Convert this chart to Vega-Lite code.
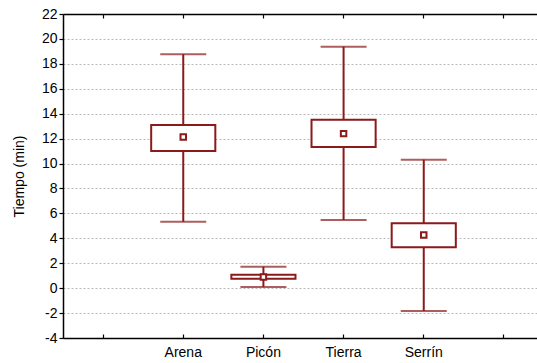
{
  "$schema": "https://vega.github.io/schema/vega-lite/v6.json",
  "width": 481,
  "height": 324,
  "autosize": {"type": "none"},
  "padding": {"left": 63, "top": 14, "right": 0, "bottom": 25},
  "background": "white",
  "config": {
    "view": {"stroke": null},
    "font": "Liberation Sans",
    "axis": {
      "labelFont": "Liberation Sans",
      "titleFont": "Liberation Sans",
      "labelColor": "#000",
      "titleColor": "#000",
      "labelFontSize": 14,
      "titleFontSize": 14,
      "titleFontWeight": "normal",
      "domainColor": "#000",
      "domainWidth": 1.5,
      "tickColor": "#000",
      "tickWidth": 1.2,
      "labelOverlap": false
    },
    "axisY": {
      "title": "Tiempo (min)",
      "grid": true,
      "gridColor": "#b8b8b8",
      "gridDash": [2, 2],
      "gridWidth": 1,
      "tickSize": 4,
      "labelPadding": 2,
      "titlePadding": 15
    }
  },
  "data": {
    "values": [
      {"cat": "Arena", "mean": 12.13, "boxLo": 11.0, "boxHi": 13.09, "wLo": 5.33, "wHi": 18.77},
      {"cat": "Picón", "mean": 0.9, "boxLo": 0.76, "boxHi": 1.08, "wLo": 0.09, "wHi": 1.72},
      {"cat": "Tierra", "mean": 12.4, "boxLo": 11.33, "boxHi": 13.52, "wLo": 5.47, "wHi": 19.38},
      {"cat": "Serrín", "mean": 4.27, "boxLo": 3.28, "boxHi": 5.2, "wLo": -1.83, "wHi": 10.31}
    ]
  },
  "resolve": {"axis": {"x": "independent"}},
  "layer": [
    {
      "encoding": {
        "x": {
          "field": "cat",
          "type": "nominal",
          "sort": null,
          "scale": {"type": "band", "domain": ["e0", "Arena", "Picón", "Tierra", "Serrín", "e5"], "paddingInner": 0, "paddingOuter": 0},
          "axis": {
            "orient": "bottom",
            "title": null,
            "labelAngle": 0,
            "labelExpr": "indexof(['e0','e5'], datum.value) >= 0 ? '' : datum.value",
            "tickSize": -4,
            "labelPadding": 11,
            "grid": false
          }
        }
      },
      "layer": [
        {
          "mark": {"type": "rule", "color": "#8B1A1A", "strokeWidth": 2},
          "encoding": {
            "y": {
              "field": "wLo",
              "type": "quantitative",
              "scale": {"domain": [-4, 22], "nice": false, "zero": false},
              "axis": {"title": "Tiempo (min)", "values": [-4, -2, 0, 2, 4, 6, 8, 10, 12, 14, 16, 18, 20, 22], "labelExpr": "'' + datum.value"}
            },
            "y2": {"field": "wHi"}
          }
        },
        {
          "mark": {"type": "tick", "color": "#8B1A1A", "thickness": 2, "size": 46, "orient": "horizontal"},
          "encoding": {"y": {"field": "wLo", "type": "quantitative", "axis": {"title": "Tiempo (min)", "values": [-4, -2, 0, 2, 4, 6, 8, 10, 12, 14, 16, 18, 20, 22], "labelExpr": "'' + datum.value"}}}
        },
        {
          "mark": {"type": "tick", "color": "#8B1A1A", "thickness": 2, "size": 46, "orient": "horizontal"},
          "encoding": {"y": {"field": "wHi", "type": "quantitative", "axis": {"title": "Tiempo (min)", "values": [-4, -2, 0, 2, 4, 6, 8, 10, 12, 14, 16, 18, 20, 22], "labelExpr": "'' + datum.value"}}}
        },
        {
          "mark": {"type": "bar", "fill": "white", "stroke": "#8B1A1A", "strokeWidth": 2, "width": {"band": 0.8}},
          "encoding": {
            "y": {"field": "boxLo", "type": "quantitative", "axis": {"title": "Tiempo (min)", "values": [-4, -2, 0, 2, 4, 6, 8, 10, 12, 14, 16, 18, 20, 22], "labelExpr": "'' + datum.value"}},
            "y2": {"field": "boxHi"}
          }
        },
        {
          "mark": {"type": "point", "shape": "square", "size": 30, "filled": true, "fill": "white", "stroke": "#8B1A1A", "strokeWidth": 2, "opacity": 1},
          "encoding": {"y": {"field": "mean", "type": "quantitative", "axis": {"title": "Tiempo (min)", "values": [-4, -2, 0, 2, 4, 6, 8, 10, 12, 14, 16, 18, 20, 22], "labelExpr": "'' + datum.value"}}}
        }
      ]
    },
    {
      "mark": {"type": "rule", "strokeOpacity": 0},
      "encoding": {
        "x": {
          "field": "cat",
          "type": "nominal",
          "axis": {"orient": "top", "title": null, "labels": false, "tickSize": -4, "grid": false}
        }
      }
    }
  ]
}
